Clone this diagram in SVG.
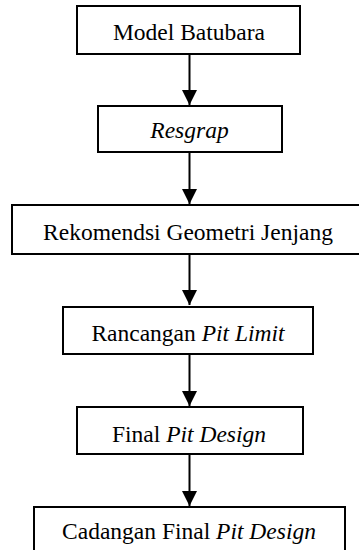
<svg xmlns="http://www.w3.org/2000/svg" width="359" height="550" viewBox="0 0 359 550">
<defs>
<marker id="ah" viewBox="0 0 15 15" markerWidth="15" markerHeight="15" markerUnits="userSpaceOnUse" refX="15" refY="7.5" orient="auto">
<path d="M0,0 L15,7.5 L0,15 Z" fill="#000"/>
</marker>
</defs>
<rect width="359" height="550" fill="#fff"/>
<g id="connectors" stroke="#000" stroke-width="2" fill="none">
<line x1="189.5" y1="54" x2="189.5" y2="105" marker-end="url(#ah)"/>
<line x1="189.5" y1="152" x2="189.5" y2="204" marker-end="url(#ah)"/>
<line x1="189.5" y1="254" x2="189.5" y2="305" marker-end="url(#ah)"/>
<line x1="189.5" y1="354" x2="189.5" y2="406" marker-end="url(#ah)"/>
<line x1="189.5" y1="454" x2="189.5" y2="506" marker-end="url(#ah)"/>
</g>
<g id="n1">
<rect x="77" y="6" width="223" height="48" fill="#fff" stroke="#000" stroke-width="2"/>
<text x="189" y="40" font-family="Liberation Serif" font-size="23.5" text-anchor="middle">Model Batubara</text>
</g>
<g id="n2">
<rect x="98" y="106" width="184" height="46" fill="#fff" stroke="#000" stroke-width="2"/>
<text x="189.5" y="138" font-family="Liberation Serif" font-size="23.5" font-style="italic" text-anchor="middle">Resgrap</text>
</g>
<g id="n3">
<rect x="12" y="205" width="354" height="49" fill="#fff" stroke="#000" stroke-width="2"/>
<text x="188" y="240" font-family="Liberation Serif" font-size="23.5" text-anchor="middle">Rekomendsi Geometri Jenjang</text>
</g>
<g id="n4">
<rect x="63" y="307" width="250" height="47" fill="#fff" stroke="#000" stroke-width="2"/>
<text x="188" y="341" font-family="Liberation Serif" font-size="23.5" text-anchor="middle">Rancangan <tspan font-style="italic">Pit Limit</tspan></text>
</g>
<g id="n5">
<rect x="77" y="407" width="226" height="47" fill="#fff" stroke="#000" stroke-width="2"/>
<text x="189" y="441.5" font-family="Liberation Serif" font-size="23.5" text-anchor="middle">Final <tspan font-style="italic">Pit Design</tspan></text>
</g>
<g id="n6">
<rect x="34" y="507" width="311" height="48" fill="#fff" stroke="#000" stroke-width="2"/>
<text x="189" y="539" font-family="Liberation Serif" font-size="23.5" text-anchor="middle">Cadangan Final <tspan font-style="italic">Pit Design</tspan></text>
</g>
</svg>
